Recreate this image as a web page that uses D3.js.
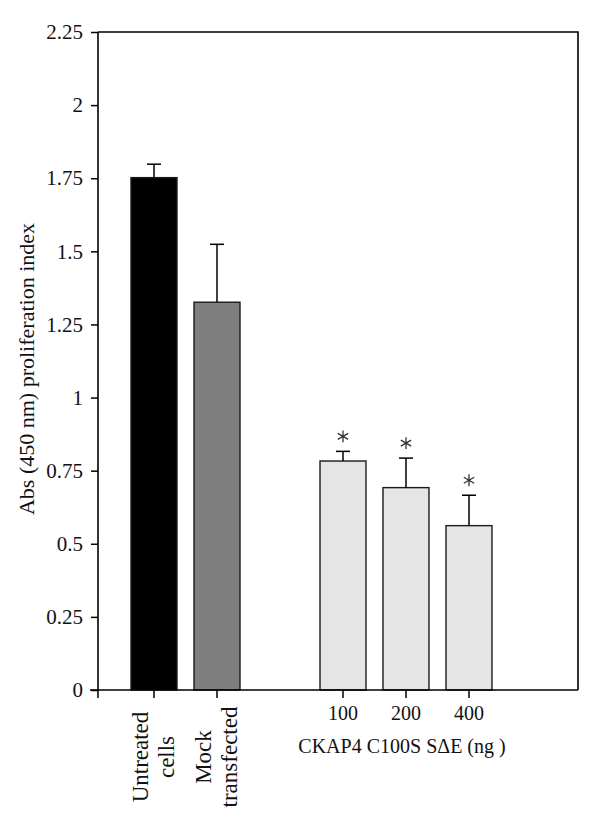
<!DOCTYPE html>
<html>
<head>
<meta charset="utf-8">
<script src="https://cdn.jsdelivr.net/npm/d3@7"></script>
<style>
  html, body { margin: 0; padding: 0; background: #fff; }
  svg { display: block; font-family: "Liberation Serif", "Times New Roman", serif; }
</style>
</head>
<body>
<svg id="chart" width="600" height="821"></svg>
<script>
// ---- data ----
const categories = ["Untreated cells", "Mock transfected", "", "100", "200", "400"];
const labelLines = [["Untreated", "cells"], ["Mock", "transfected"], [], ["100"], ["200"], ["400"]];
const means  = [1.752, 1.326, null, 0.783, 0.692, 0.562];
const errors = [0.046, 0.198, null, 0.033, 0.101, 0.104];
const significant = [false, false, false, true, true, true];
const fills = ["#000000", "#7f7f7f", null, "#e5e5e5", "#e5e5e5", "#e5e5e5"];
const yTicks = [0, 0.25, 0.5, 0.75, 1, 1.25, 1.5, 1.75, 2, 2.25];
const yTickLabels = ["0", "0.25", "0.5", "0.75", "1", "1.25", "1.5", "1.75", "2", "2.25"];
const yTitle = "Abs (450 nm) proliferation index";
const xGroupTitle = "CKAP4 C100S S\u0394E (ng )";

// ---- layout ----
const svg = d3.select("#chart");
const plot = { left: 98, right: 578, top: 32, bottom: 690 };

const y = d3.scaleLinear().domain([0, 2.25]).range([plot.bottom, plot.top]);
const x = d3.scaleBand().domain(categories).range([122.5, 500.5])
  .paddingInner(0.27).paddingOuter(0.135);

const bars = categories.map((c, i) => ({ c, i, v: means[i], e: errors[i], sig: significant[i], fill: fills[i] }))
  .filter(d => d.v !== null);

// frame (top + right)
svg.append("path")
  .attr("d", `M${plot.left},${plot.top}H${plot.right}V${plot.bottom}`)
  .attr("fill", "none").attr("stroke", "#000").attr("stroke-width", 1.6);

// bars
svg.append("g").selectAll("rect").data(bars).join("rect")
  .attr("x", d => x(d.c))
  .attr("width", x.bandwidth())
  .attr("y", d => y(d.v))
  .attr("height", d => y(0) - y(d.v))
  .attr("fill", d => d.fill)
  .attr("stroke", "#1a1a1a")
  .attr("stroke-width", 1.4);

// error bars (upper only)
const eb = svg.append("g").attr("stroke", "#000").attr("stroke-width", 1.5);
bars.forEach(d => {
  const cx = x(d.c) + x.bandwidth() / 2;
  eb.append("line").attr("x1", cx).attr("x2", cx).attr("y1", y(d.v)).attr("y2", y(d.v + d.e));
  eb.append("line").attr("x1", cx - 7).attr("x2", cx + 7).attr("y1", y(d.v + d.e)).attr("y2", y(d.v + d.e));
});

// asterisks (significance markers)
const star = d3.symbol(d3.symbolAsterisk, 100);
svg.append("g").selectAll("path").data(bars.filter(d => d.sig)).join("path")
  .attr("transform", d => `translate(${x(d.c) + x.bandwidth() / 2},${y(d.v + d.e) - 15})`)
  .attr("d", star)
  .attr("fill", "none")
  .attr("stroke", "#333")
  .attr("stroke-width", 1.3);

// y axis
const yAxis = d3.axisLeft(y).tickValues(yTicks)
  .tickFormat((d, i) => yTickLabels[i]).tickSize(7).tickPadding(8);
const gy = svg.append("g").attr("transform", `translate(${plot.left},0)`).call(yAxis);
gy.select(".domain").attr("d", `M0,${plot.top}V${plot.bottom}`).attr("stroke-width", 1.6);
gy.selectAll(".tick line").attr("stroke-width", 1.5);
gy.selectAll(".tick text").attr("font-size", 21).attr("font-family", "Liberation Serif").attr("fill", "#111");

// x axis line
svg.append("line").attr("x1", 90).attr("x2", plot.right).attr("y1", plot.bottom).attr("y2", plot.bottom)
  .attr("stroke", "#000").attr("stroke-width", 1.6);
// x ticks
const xTickPos = [plot.left].concat(bars.map(d => x(d.c) + x.bandwidth() / 2));
svg.append("g").selectAll("line").data(xTickPos).join("line")
  .attr("x1", d => d).attr("x2", d => d)
  .attr("y1", plot.bottom).attr("y2", plot.bottom + 8)
  .attr("stroke", "#000").attr("stroke-width", 1.5);

// category labels
bars.forEach(d => {
  const cx = x(d.c) + x.bandwidth() / 2;
  const lines = labelLines[d.i];
  if (lines.length === 2) {
    lines.forEach((t, k) => {
      svg.append("text")
        .attr("transform", `translate(${cx - 6 + k * 26},757) rotate(-90)`)
        .attr("text-anchor", "middle")
        .attr("font-size", 23)
        .attr("fill", "#111")
        .text(t);
    });
  } else {
    svg.append("text")
      .attr("x", cx).attr("y", 720)
      .attr("text-anchor", "middle")
      .attr("font-size", 20)
      .attr("fill", "#111")
      .text(lines[0]);
  }
});

// group title
svg.append("text")
  .attr("x", 402).attr("y", 753)
  .attr("text-anchor", "middle")
  .attr("font-size", 20)
  .attr("fill", "#111")
  .text(xGroupTitle);

// y title
svg.append("text")
  .attr("transform", "translate(34,369) rotate(-90)")
  .attr("text-anchor", "middle")
  .attr("font-size", 22)
  .attr("fill", "#111")
  .text(yTitle);
</script>
</body>
</html>
